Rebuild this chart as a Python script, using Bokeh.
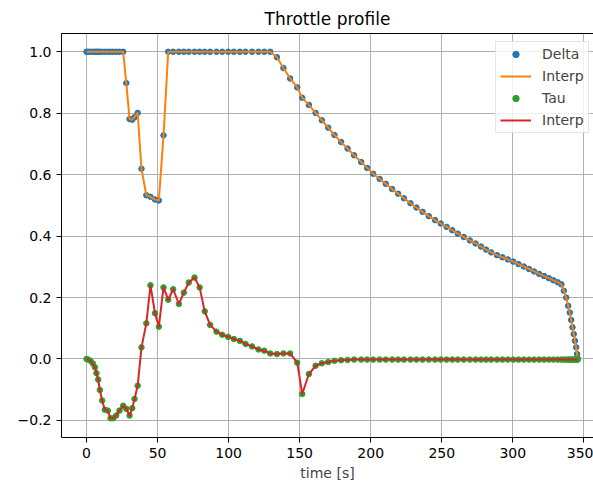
from bokeh.plotting import figure
from bokeh.models import (Range1d, FixedTicker, LinearAxis, Legend, LegendItem,
                          CustomJSTickFormatter)
from bokeh.embed import file_html
from bokeh.resources import INLINE

# Sample times [s]
time_s = [
    0.0, 1.2, 2.8, 4.5, 5.9, 7.0, 8.2, 9.4, 11.0, 12.9,
    15.0, 16.9, 18.8, 20.9, 23.2, 25.8, 28.0, 30.3, 32.2, 33.8,
    36.0, 38.7, 42.1, 45.0, 48.2, 50.9, 54.2, 57.5, 61.0, 65.0,
    68.5, 72.0, 76.0, 79.6, 83.2, 87.0, 91.5, 95.5, 99.7, 103.7,
    107.9, 111.9, 116.5, 121.0, 125.1, 129.3, 134.0, 138.6, 143.3, 148.3,
    151.8, 156.5, 161.2, 165.6, 170.1, 174.5, 179.2, 183.7, 188.3, 193.3,
    197.5, 201.7, 206.3, 210.6, 215.1, 219.3, 223.4, 228.0, 232.2, 236.5,
    240.9, 245.3, 249.3, 253.4, 257.4, 261.3, 265.5, 269.8, 273.8, 277.6,
    281.2, 284.8, 288.9, 292.7, 296.5, 300.3, 304.0, 307.8, 311.4, 315.0,
    318.6, 322.0, 325.4, 328.6, 331.6, 334.2, 335.9, 337.6, 339.0, 340.1,
    341.1, 342.0, 342.9, 343.7, 344.6, 345.3, 345.7,
]

# Throttle command (delta)
delta = [
    1.0, 1.0, 1.0, 1.0, 1.0, 1.0, 1.0, 1.0, 1.0, 1.0,
    1.0, 1.0, 1.0, 1.0, 1.0, 1.0, 0.898, 0.781, 0.779, 0.787,
    0.801, 0.619, 0.533, 0.528, 0.519, 0.516, 0.728, 1.0, 1.0, 1.0,
    1.0, 1.0, 1.0, 1.0, 1.0, 1.0, 1.0, 1.0, 1.0, 1.0,
    1.0, 1.0, 1.0, 1.0, 1.0, 1.0, 0.982, 0.947, 0.913, 0.884,
    0.850, 0.827, 0.801, 0.777, 0.753, 0.729, 0.706, 0.685, 0.663, 0.641,
    0.622, 0.603, 0.586, 0.570, 0.553, 0.538, 0.523, 0.507, 0.493, 0.479,
    0.465, 0.452, 0.441, 0.430, 0.419, 0.408, 0.397, 0.386, 0.376, 0.366,
    0.356, 0.347, 0.338, 0.331, 0.324, 0.317, 0.309, 0.301, 0.293, 0.285,
    0.277, 0.270, 0.263, 0.256, 0.250, 0.243, 0.222, 0.200, 0.173, 0.151,
    0.127, 0.103, 0.081, 0.059, 0.038, 0.016, 0.002,
]

# Throttle rate (tau)
tau = [
    0.0, -0.002, -0.006, -0.015, -0.027, -0.046, -0.067, -0.101, -0.135, -0.165,
    -0.168, -0.193, -0.193, -0.184, -0.168, -0.152, -0.162, -0.184, -0.160, -0.130,
    -0.087, 0.038, 0.116, 0.240, 0.149, 0.105, 0.233, 0.193, 0.227, 0.179,
    0.216, 0.249, 0.265, 0.233, 0.155, 0.111, 0.089, 0.079, 0.072, 0.065,
    0.059, 0.049, 0.041, 0.031, 0.027, 0.018, 0.016, 0.018, 0.018, -0.012,
    -0.114, -0.049, -0.022, -0.014, -0.010, -0.006, -0.004, -0.003, -0.002, -0.002,
    -0.002, -0.002, -0.002, -0.002, -0.002, -0.002, -0.002, -0.002, -0.002, -0.002,
    -0.002, -0.002, -0.002, -0.002, -0.002, -0.002, -0.002, -0.002, -0.002, -0.002,
    -0.002, -0.002, -0.002, -0.002, -0.002, -0.002, -0.002, -0.002, -0.002, -0.002,
    -0.002, -0.002, -0.002, -0.002, -0.002, -0.002, -0.002, -0.002, -0.002, -0.002,
    -0.002, -0.002, -0.002, -0.002, -0.002, -0.002, -0.002,
]

assert len(time_s) == len(delta) == len(tau)

x_ticks = [0, 50, 100, 150, 200, 250, 300, 350]
y_ticks = [-0.2, 0.0, 0.2, 0.4, 0.6, 0.8, 1.0]

C_DELTA = "#1f77b4"
C_DELTA_LINE = "#ff7f0e"
C_TAU = "#2ca02c"
C_TAU_LINE = "#d62728"
FONT = "DejaVu Sans"

p = figure(
    width=593, height=485,
    x_range=Range1d(-17.6, 356.8),
    y_range=Range1d(-0.2555, 1.0594),
    output_backend="svg", toolbar_location=None,
    min_border_left=61, min_border_right=0,
    min_border_top=33, min_border_bottom=48,
    background_fill_color="white", border_fill_color="white",
)
p.outline_line_color = None

p.title.text = "Throttle profile"
p.title.text_font = FONT
p.title.text_font_size = "17px"
p.title.text_font_style = "normal"
p.title.text_color = "black"
p.title.align = "center"

xaxis = p.below[0]
yaxis = p.left[0]

xaxis.ticker = FixedTicker(ticks=x_ticks)
yaxis.ticker = FixedTicker(ticks=y_ticks)
p.xgrid.ticker = FixedTicker(ticks=x_ticks)
p.ygrid.ticker = FixedTicker(ticks=y_ticks)
yaxis.formatter = CustomJSTickFormatter(
    code="return (tick < -1e-9 ? '\u2212' : '') + Math.abs(tick).toFixed(1);")

xaxis.axis_label = "time [s]"
xaxis.axis_label_text_font = FONT
xaxis.axis_label_text_font_size = "14px"
xaxis.axis_label_text_font_style = "normal"
xaxis.axis_label_standoff = 4

for ax in (xaxis, yaxis):
    ax.major_label_text_font = FONT
    ax.major_label_text_font_size = "14px"
    ax.major_label_text_color = "black"
    ax.major_label_standoff = 5
    ax.axis_line_color = "black"
    ax.axis_line_width = 1
    ax.major_tick_line_color = "black"
    ax.major_tick_line_width = 1
    ax.major_tick_out = 5
    ax.major_tick_in = 0
    ax.minor_tick_line_color = None

# top spine
top = LinearAxis(ticker=FixedTicker(ticks=[]), major_label_text_font_size="0px",
                 major_tick_out=0, major_tick_in=0, minor_tick_out=0, minor_tick_in=0,
                 axis_line_color="black", axis_line_width=1)
p.add_layout(top, "above")

for g in (p.xgrid, p.ygrid):
    g.grid_line_color = "#b0b0b0"
    g.grid_line_width = 1

r_d = p.scatter(time_s, delta, marker="circle", size=5.5,
                fill_color=C_DELTA, line_color=C_DELTA)
r_dl = p.line(time_s, delta, line_color=C_DELTA_LINE, line_width=2, line_join="round")
r_t = p.scatter(time_s, tau, marker="circle", size=5.5,
                fill_color=C_TAU, line_color=C_TAU)
r_tl = p.line(time_s, tau, line_color=C_TAU_LINE, line_width=2, line_join="round")

legend = Legend(
    items=[
        LegendItem(label="Delta", renderers=[r_d]),
        LegendItem(label="Interp", renderers=[r_dl]),
        LegendItem(label="Tau", renderers=[r_t]),
        LegendItem(label="Interp", renderers=[r_tl]),
    ],
    location=(434, 304),
    label_text_font=FONT, label_text_font_size="14px",
    label_height=16, glyph_height=16, glyph_width=31,
    label_standoff=11, spacing=6, padding=4, margin=0,
    border_line_color="#cccccc", border_line_width=1,
    background_fill_color="white", background_fill_alpha=0.8,
)
p.add_layout(legend)

open("out.html", "w").write(file_html(p, INLINE))
